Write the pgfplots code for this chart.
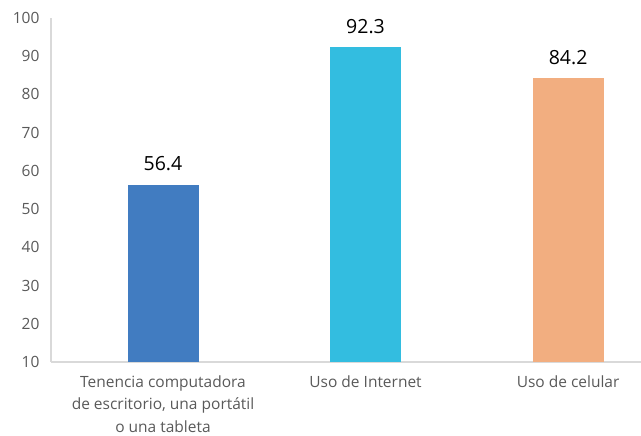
\documentclass[border=0pt]{standalone}
\usepackage{pgfplots}
\pgfplotsset{compat=1.18}
\usepackage{fontspec}
\setmainfont{Open Sans}
\usetikzlibrary{calc}
\definecolor{barblue}{HTML}{417CC1}
\definecolor{barcyan}{HTML}{33BDE0}
\definecolor{barorange}{HTML}{F2AE80}
\definecolor{axisgray}{HTML}{D9D9D9}
\definecolor{labelgray}{HTML}{595959}
\begin{document}
\begin{tikzpicture}
  \begin{axis}[
    scale only axis,
    width=590pt, height=344pt,
    ybar, bar width=71pt, bar shift=0pt,
    xmin=-0.553, xmax=2.36,
    ymin=10, ymax=100,
    ytick={10,20,...,100},
    xtick={0,1,2},
    xticklabels={{Tenencia computadora\\de escritorio, una portátil\\o una tableta},{Uso de Internet},{Uso de celular}},
    axis x line*=bottom, axis y line*=left,
    axis line style={axisgray, line width=1.2pt, -},
    major tick length=0pt,
    /pgf/number format/assume math mode=true,
    ticklabel style={text=labelgray, font=\fontsize{15.5}{22.5}\selectfont},
    xticklabel style={align=center, anchor=north, yshift=-10pt},
    yticklabel style={xshift=-8pt},
    nodes near coords={\pgfmathprintnumber[fixed,precision=1,zerofill]{\pgfplotspointmeta}},
    nodes near coords style={text=black, font=\fontsize{19.5}{23}\selectfont, yshift=10pt},
    clip=false,
  ]
    \addplot[fill=barblue, draw=none] coordinates {(0,56.4)};
    \addplot[fill=barcyan, draw=none] coordinates {(1,92.3)};
    \addplot[fill=barorange, draw=none] coordinates {(2,84.2)};
  \end{axis}
  \pgfresetboundingbox
  \path ($(current axis.south west)+(-51pt,-74pt)$) rectangle ($(current axis.south west)+(590pt,362pt)$);
\end{tikzpicture}
\end{document}
